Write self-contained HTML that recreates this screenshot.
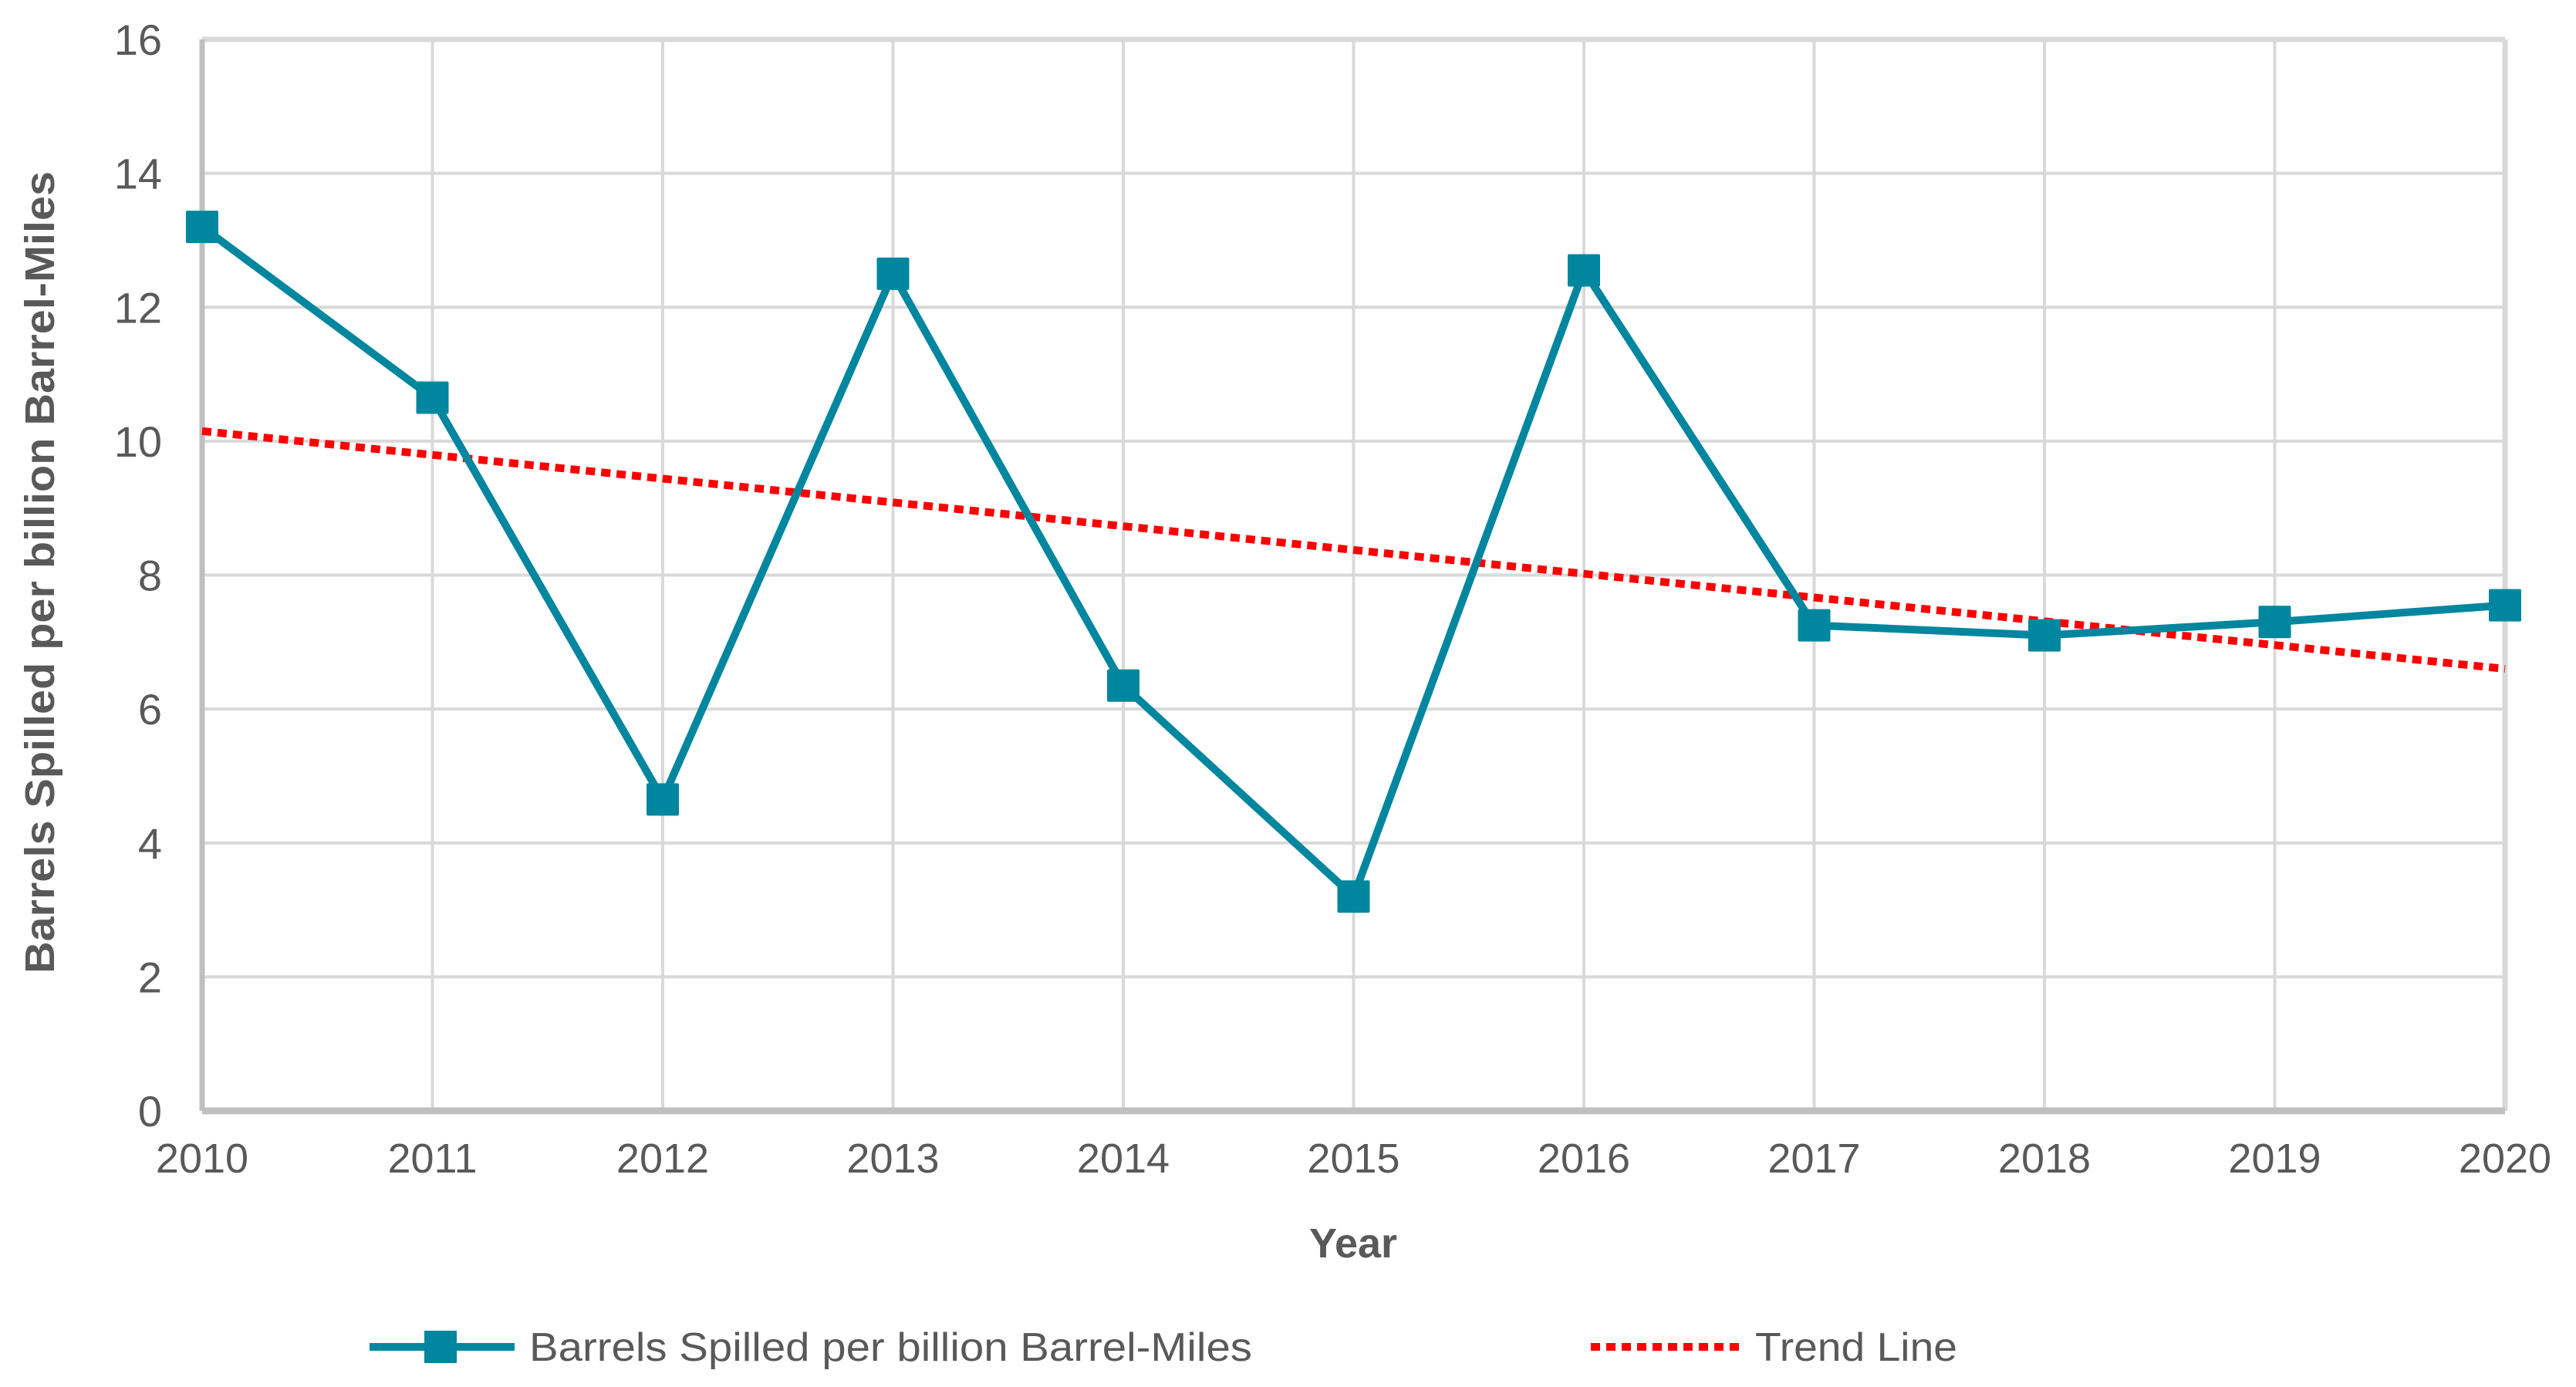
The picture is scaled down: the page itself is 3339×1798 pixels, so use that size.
<!DOCTYPE html>
<html><head><meta charset="utf-8"><style>
html,body{margin:0;padding:0;background:#fff;}
svg text{font-family:"Liberation Sans",sans-serif;fill:#595959;}
</style></head><body>
<svg id="chart" width="3339" height="1793" viewBox="0 0 3339 1793" xmlns="http://www.w3.org/2000/svg">
<g id="grid"></g>
<g id="axes"></g>
<g id="series"></g>
<text x="1754" y="1630" text-anchor="middle" font-size="54" font-weight="bold">Year</text>
<text transform="translate(70,742) rotate(-90)" text-anchor="middle" font-size="54" font-weight="bold" textLength="1040" lengthAdjust="spacingAndGlyphs">Barrels Spilled per billion Barrel-Miles</text>
<g>
<g>
<line x1="479" y1="1746" x2="667" y2="1746" stroke="#00869E" stroke-width="10"/>
<rect x="550" y="1725" width="42" height="42" fill="#00869E"/>
<text x="686" y="1764" font-size="52" textLength="937" lengthAdjust="spacingAndGlyphs">Barrels Spilled per billion Barrel-Miles</text>
</g>
<g>
<line x1="2062" y1="1746" x2="2254" y2="1746" stroke="#FF0000" stroke-width="10" stroke-dasharray="12,8"/>
<text x="2275" y="1764" font-size="52" textLength="262" lengthAdjust="spacingAndGlyphs">Trend Line</text>
</g>
</g>
</svg>
<script>
const years = ["2010","2011","2012","2013","2014","2015","2016","2017","2018","2019","2020"];
const spillValues = [13.2, 10.65, 4.65, 12.5, 6.35, 3.2, 12.55, 7.25, 7.1, 7.3, 7.55];
const trendValues = [10.15, 6.6];
const yTicks = [0, 2, 4, 6, 8, 10, 12, 14, 16];

const L = 262, R = 3247, T = 51, B = 1440, yMax = 16;
const NS = "http://www.w3.org/2000/svg";
function xs(i){ return L + (R - L) * i / (years.length - 1); }
function ys(v){ return B - (B - T) * v / yMax; }
function mk(tag, attrs, parent){
  const e = document.createElementNS(NS, tag);
  for (const k in attrs) e.setAttribute(k, attrs[k]);
  parent.appendChild(e);
  return e;
}
const grid = document.getElementById('grid');
const axes = document.getElementById('axes');
const series = document.getElementById('series');

yTicks.forEach(v => {
  if (v > 0) {
    const g = mk('line', {x1: L, x2: R, y1: ys(v), y2: ys(v), stroke: '#D9D9D9', 'stroke-width': 4}, grid);
    
    
  }
  const t = mk('text', {x: 210, y: ys(v) + 20, 'text-anchor': 'end', 'font-size': 56}, axes);
  t.textContent = String(v);
  
  
});
years.forEach((y, i) => {
  if (i > 0 && i < years.length - 1) {
    const g = mk('line', {x1: xs(i), x2: xs(i), y1: T, y2: B, stroke: '#D9D9D9', 'stroke-width': 4}, grid);
    
    
  }
  const t = mk('text', {x: xs(i), y: 1520, 'text-anchor': 'middle', 'font-size': 54}, axes);
  t.textContent = y;
  
  
});
const topB = mk('line', {x1: L, x2: R, y1: T, y2: T, stroke: '#D9D9D9', 'stroke-width': 7}, axes);


const rightB = mk('line', {x1: R, x2: R, y1: T, y2: B, stroke: '#D9D9D9', 'stroke-width': 7}, axes);


const yAx = mk('line', {x1: L, x2: L, y1: T, y2: B, stroke: '#BFBFBF', 'stroke-width': 7}, axes);


const xAx = mk('line', {x1: L, x2: R, y1: B, y2: B, stroke: '#BFBFBF', 'stroke-width': 9}, axes);



const tr = mk('line', {x1: xs(0), y1: ys(trendValues[0]), x2: xs(years.length - 1), y2: ys(trendValues[1]), stroke: '#FF0000', 'stroke-width': 10, 'stroke-dasharray': '12,8'}, series);



const pts = spillValues.map((v, i) => xs(i) + ',' + ys(v)).join(' ');
const pl = mk('polyline', {points: pts, fill: 'none', stroke: '#00869E', 'stroke-width': 10, 'stroke-linejoin': 'round'}, series);


spillValues.forEach((v, i) => {
  const r = mk('rect', {x: xs(i) - 21, y: ys(v) - 21, width: 42, height: 42, rx: 2, fill: '#00869E'}, series);
  
  
});
</script>
</body></html>
